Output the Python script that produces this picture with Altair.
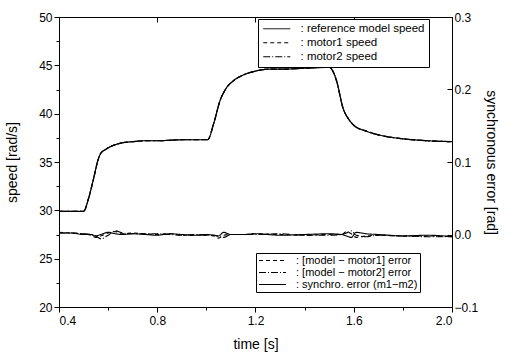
import altair as alt
import pandas as pd

FONT = "Liberation Sans"

# speed data (rad/s)
time_speed = [0.40, 0.45, 0.50, 0.52, 0.54, 0.56, 0.57, 0.59, 0.61, 0.63, 0.66, 0.70, 0.75, 0.80,
              0.90, 0.98, 1.005, 1.03, 1.055, 1.08, 1.11, 1.15, 1.20, 1.25, 1.30, 1.40, 1.50,
              1.51, 1.53, 1.556, 1.58, 1.60, 1.65, 1.72, 1.80, 1.90, 2.00]
speed_ref = [29.9, 29.9, 29.9, 31.2, 33.2, 35.3, 35.9, 36.3, 36.6, 36.8, 37.0, 37.1, 37.2, 37.2,
             37.3, 37.3, 37.3, 39.0, 41.3, 42.6, 43.4, 44.0, 44.4, 44.6, 44.6, 44.7, 44.8,
             44.6, 43.4, 40.6, 39.4, 38.8, 38.2, 37.7, 37.4, 37.2, 37.1]
speed_m1 = [29.9, 29.9, 29.9, 31.2, 33.2, 35.3, 35.9, 36.3, 36.6, 36.8, 37.0, 37.1, 37.2, 37.2,
            37.3, 37.3, 37.3, 39.0, 41.3, 42.6, 43.4, 44.0, 44.4, 44.6, 44.6, 44.7, 44.8,
            44.6, 43.4, 40.6, 39.4, 38.8, 38.2, 37.7, 37.4, 37.2, 37.1]
speed_m2 = [29.9, 29.9, 29.9, 31.2, 33.2, 35.3, 35.9, 36.3, 36.6, 36.8, 37.0, 37.1, 37.2, 37.2,
            37.3, 37.3, 37.3, 39.0, 41.3, 42.6, 43.4, 44.0, 44.4, 44.6, 44.6, 44.7, 44.8,
            44.6, 43.4, 40.6, 39.4, 38.8, 38.2, 37.7, 37.4, 37.2, 37.1]
speed_names = [": reference model speed", ": motor1 speed", ": motor2 speed"]

# error data (rad)
time_err = [0.40, 0.45, 0.50, 0.53, 0.55, 0.57, 0.60, 0.63, 0.66, 0.70, 0.75, 0.80, 0.85, 0.90,
            0.95, 1.00, 1.03, 1.05, 1.07, 1.10, 1.15, 1.20, 1.30, 1.40, 1.50, 1.55, 1.57, 1.59,
            1.61, 1.65, 1.70, 1.80, 1.90, 2.00]
err_m1 = [0.003, 0.002, 0.001, -0.001, -0.004, -0.002, 0.002, 0.004, 0.001, 0.002, 0.001, 0.000,
          0.001, -0.001, -0.001, -0.001, -0.002, -0.005, -0.001, 0.000, 0.000, 0.001, 0.000,
          -0.001, 0.000, 0.000, 0.004, 0.001, -0.004, -0.002, -0.001, -0.002, -0.002, -0.003]
err_m2 = [0.002, 0.002, 0.001, 0.000, -0.002, -0.006, -0.001, 0.005, 0.002, 0.001, 0.001, 0.001,
          0.000, -0.001, 0.000, -0.001, -0.001, -0.003, -0.004, 0.000, 0.000, 0.000, 0.001,
          -0.001, -0.001, 0.000, 0.002, 0.005, -0.001, -0.003, -0.001, -0.002, -0.003, -0.003]
err_sync = [0.002, 0.002, 0.000, 0.000, -0.002, 0.000, 0.003, 0.001, 0.000, 0.001, 0.000, -0.001,
            0.001, 0.000, -0.001, 0.000, -0.001, -0.002, 0.003, 0.000, 0.000, 0.001, -0.001,
            0.000, 0.001, 0.000, -0.002, -0.004, 0.003, 0.001, 0.000, -0.002, -0.001, -0.003]
err_names = [": [model \u2212 motor1] error", ": [model \u2212 motor2] error",
             ": synchro. error (m1\u2212m2)"]

x_ticks = [0.4, 0.8, 1.2, 1.6, 2.0]
x_minor = [0.6, 1.0, 1.4, 1.8]
speed_ticks = [20, 25, 30, 35, 40, 45, 50]
speed_minor = [22.5, 27.5, 32.5, 37.5, 42.5, 47.5]
err_ticks = [-0.1, 0.0, 0.1, 0.2, 0.3]

rows = []
for name, vals in zip(speed_names, [speed_ref, speed_m1, speed_m2]):
    for t, v in zip(time_speed, vals):
        rows.append({"t": t, "v": v, "s": name})
df_speed = pd.DataFrame(rows)
rows = []
for name, vals in zip(err_names, [err_m1, err_m2, err_sync]):
    for t, v in zip(time_err, vals):
        rows.append({"t": t, "v": v, "s": name})
df_err = pd.DataFrame(rows)

xscale = alt.Scale(domain=[0.4, 2.0], nice=False, zero=False)
yspeed = alt.Scale(domain=[20, 50], nice=False, zero=False)
yerr = alt.Scale(domain=[-0.1, 0.3], nice=False, zero=False)

axis_common = dict(grid=False, domainColor="black", tickColor="black", labelColor="black",
                   titleColor="black", labelFont=FONT, titleFont=FONT, labelFontSize=12,
                   titleFontSize=14, titleFontWeight="normal", domainWidth=1, tickWidth=1)

legend_common = dict(orient="none", title=None, symbolType="M-1,0H5", symbolSize=81,
                     symbolStrokeWidth=1, symbolStrokeColor="black", symbolFillColor="transparent",
                     labelFont=FONT, labelColor="black", strokeColor="black", fillColor="white",
                     labelOffset=27, labelLimit=300)

speed = alt.Chart(df_speed).mark_line(color="black", strokeWidth=1.2, interpolate="monotone").encode(
    x=alt.X("t:Q", scale=xscale, axis=alt.Axis(values=x_ticks, format=".1f", title="time [s]",
                                                tickSize=5, labelPadding=3, titlePadding=11,
                                                **axis_common)),
    y=alt.Y("v:Q", scale=yspeed, axis=alt.Axis(orient="left", values=speed_ticks, title="speed [rad/s]",
                                                tickSize=5, labelPadding=2, titlePadding=19,
                                                **axis_common)),
    strokeDash=alt.StrokeDash("s:N", scale=alt.Scale(domain=speed_names,
                                                      range=[[1, 0], [4, 3], [7, 2, 1, 2]]),
                              legend=alt.Legend(legendX=199, legendY=2, labelFontSize=11.5, padding=4,
                                                rowPadding=1, **legend_common)),
    detail="s:N",
)

err = alt.Chart(df_err).mark_line(color="black", strokeWidth=1.1, interpolate="monotone").encode(
    x=alt.X("t:Q", scale=xscale, axis=alt.Axis(orient="top", values=x_ticks, labels=False, title=None,
                                                tickSize=alt.ExprRef(expr="-5"), **axis_common)),
    y=alt.Y("v:Q", scale=yerr, axis=alt.Axis(orient="right", values=err_ticks, format=".1f",
                                              title="synchronous  error [rad]",
                                              tickSize=alt.ExprRef(expr="-5"),
                                              labelPadding=7, titlePadding=6, **axis_common)),
    strokeDash=alt.StrokeDash("s:N", scale=alt.Scale(domain=err_names,
                                                      range=[[4, 3], [7, 2, 1, 2], [1, 0]]),
                              legend=alt.Legend(legendX=197, legendY=236, labelFontSize=11, padding=2,
                                                rowPadding=0, **legend_common)),
    detail="s:N",
)

minor = alt.Chart(df_speed).mark_point(opacity=0).encode(
    x=alt.X("t:Q", scale=xscale, axis=alt.Axis(orient="bottom", values=x_minor, labels=False,
                                                title=None, tickSize=3, **axis_common)),
    y=alt.Y("v:Q", scale=yspeed, axis=alt.Axis(orient="left", values=speed_minor, labels=False,
                                                title=None, tickSize=3, domain=False, **axis_common)),
)

chart = alt.layer(speed, err, minor).resolve_scale(
    y="independent", strokeDash="independent"
).resolve_axis(x="independent").properties(
    width=393, height=290,
    autosize=alt.AutoSizeParams(type="none"),
    padding={"left": 59, "top": 17, "right": 53, "bottom": 52},
    background="white",
).configure_view(stroke="black", strokeWidth=1)

chart.save("out.html", embed_options={"renderer": "svg", "actions": False})
